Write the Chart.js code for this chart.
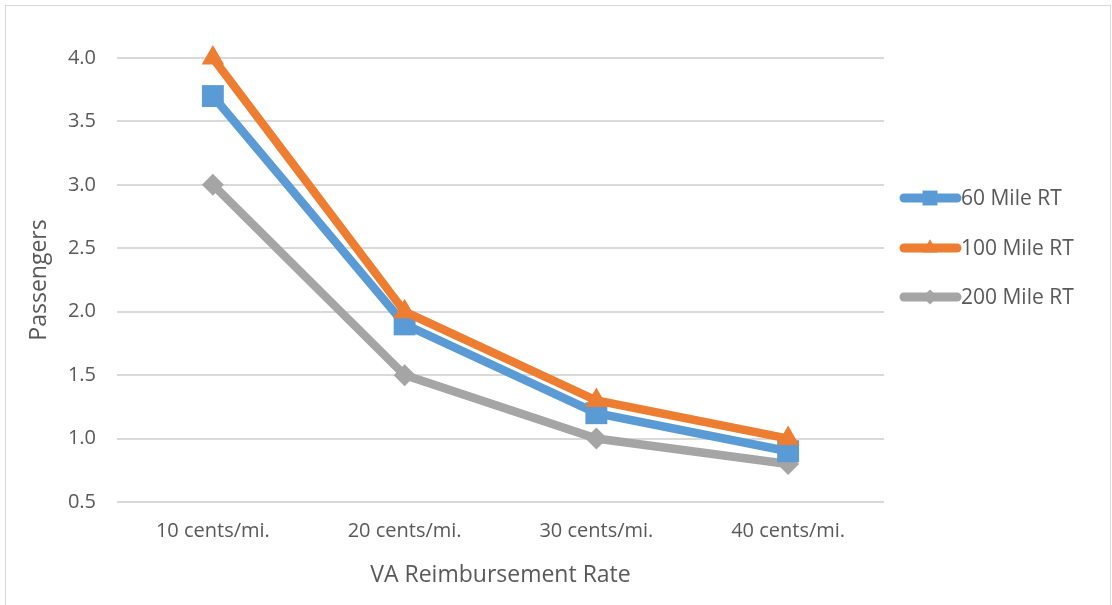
<!DOCTYPE html>
<html><head><meta charset="utf-8">
<style>html,body{margin:0;padding:0;background:#fff;}#wrap{width:1112px;height:605px;position:relative;}</style>
<script src="https://cdn.jsdelivr.net/npm/chart.js@4/dist/chart.umd.min.js"></script>
</head><body><div id="wrap"><canvas id="c" width="1112" height="605"></canvas></div>
<script>
const categories = ["10 cents/mi.", "20 cents/mi.", "30 cents/mi.", "40 cents/mi."];
const seriesNames = ["60 Mile RT", "100 Mile RT", "200 Mile RT"];
const mile60 = [3.7, 1.9, 1.2, 0.9];
const mile100 = [4.0, 2.0, 1.3, 1.0];
const mile200 = [3.0, 1.5, 1.0, 0.8];
const yTicks = [0.5, 1.0, 1.5, 2.0, 2.5, 3.0, 3.5, 4.0];
const colors = ["#5b9bd5", "#ed7d31", "#a5a5a5"];
const styles = ["rect", "triangle", "rectRot"];
const radii = [15.5, 13, 11];
const FONT = "'Open Sans', 'Liberation Sans', sans-serif";
const TXT = "#595959";

const legendPlugin = {
  id: 'customLegend',
  afterDraw(chart) {
    const ctx = chart.ctx;
    ctx.save();
    ctx.strokeStyle = "#d9d9d9";
    ctx.lineWidth = 1;
    ctx.strokeRect(5.5, 5.5, 1105, 605);
    const ys = [198, 248, 297];
    chart.data.datasets.forEach((ds, i) => {
      const y = ys[i];
      ctx.strokeStyle = ds.borderColor;
      ctx.lineWidth = 9;
      ctx.lineCap = 'round';
      ctx.beginPath(); ctx.moveTo(904, y); ctx.lineTo(957, y); ctx.stroke();
      ctx.fillStyle = ds.borderColor;
      ctx.lineWidth = 0.01;
      Chart.helpers.drawPoint(ctx, {pointStyle: ds.pointStyle, radius: ds.pointRadius * 0.68, borderWidth: 0, rotation: 0}, 930, y);
      ctx.fillStyle = TXT;
      ctx.font = "21px " + FONT;
      ctx.textBaseline = 'middle';
      ctx.textAlign = 'left';
      ctx.fillText(ds.label, 961, y + 1);
    });
    ctx.restore();
  }
};

const mk = (label, data, i) => ({
  label, data,
  borderColor: colors[i], backgroundColor: colors[i],
  borderWidth: 8.5, pointStyle: styles[i], pointRadius: radii[i], pointHoverRadius: radii[i],
  pointBorderWidth: 0, pointBackgroundColor: colors[i], tension: 0, clip: false,
  order: i === 0 ? 1 : (i === 1 ? 0 : 2)
});

new Chart(document.getElementById('c'), {
  type: 'line',
  data: {
    labels: categories,
    datasets: [mk(seriesNames[0], mile60, 0), mk(seriesNames[1], mile100, 1), mk(seriesNames[2], mile200, 2)]
  },
  plugins: [legendPlugin],
  options: {
    responsive: false, animation: false,
    layout: {padding: {left: 0, top: 58, right: 228, bottom: 0}},
    plugins: {legend: {display: false}, tooltip: {enabled: false}},
    scales: {
      x: {
        offset: true,
        grid: {display: false, drawTicks: false},
        border: {display: false},
        ticks: {color: TXT, font: {family: FONT, size: 20}, padding: 17, maxRotation: 0},
        title: {display: true, text: "VA Reimbursement Rate", color: TXT, font: {family: FONT, size: 23}, padding: {top: 10, bottom: 16}},
        afterFit(s) { s.height = 103; }
      },
      y: {
        min: 0.5, max: 4.0,
        afterBuildTicks(s) { s.ticks = yTicks.map(v => ({value: v})); },
        grid: {color: "#d9d9d9", lineWidth: 2, drawTicks: false},
        border: {display: false},
        ticks: {color: TXT, font: {family: FONT, size: 20}, padding: 21, callback: v => Number(v).toFixed(1)},
        title: {display: true, text: "Passengers", color: TXT, font: {family: FONT, size: 23}, padding: {top: 26, bottom: 0}},
        afterFit(s) { s.width = 117; }
      }
    }
  }
});
</script></body></html>
